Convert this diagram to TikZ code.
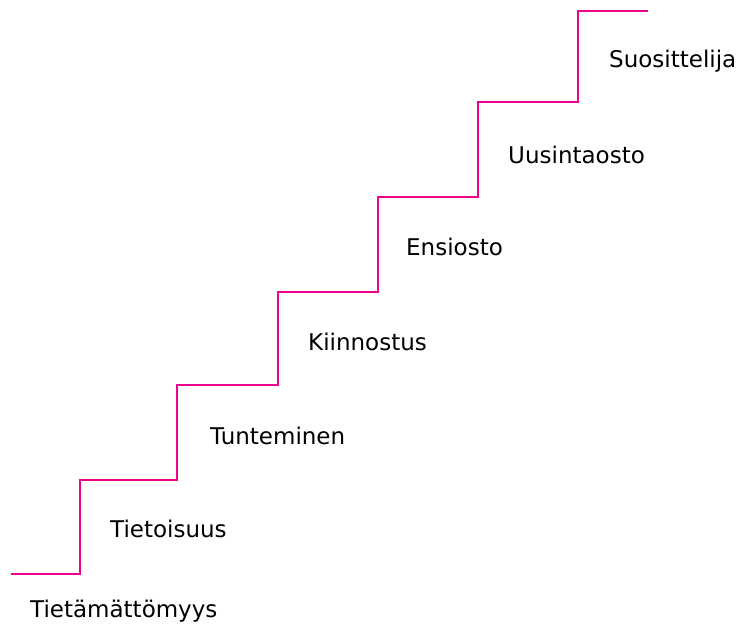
\documentclass[tikz,border=0pt]{standalone}
\usepackage{fontspec}
\setmainfont{DejaVu Sans}
\definecolor{stairpink}{RGB}{236,0,140}

\begin{document}
\begin{tikzpicture}[
    x=1pt, y=-1pt,
    stage/.style={anchor=base west, inner sep=0pt, font=\fontsize{23}{27}\selectfont},
    stair/.style={draw=stairpink, line width=2.2pt, line join=miter},
]
\useasboundingbox (0,0) rectangle (739,626);

% Staircase
\draw[stair] (11,574) -- (80,574) -- (80,480) -- (177,480) -- (177,385)
    -- (278,385) -- (278,292) -- (378,292) -- (378,197) -- (478,197)
    -- (478,102) -- (578,102) -- (578,11) -- (648,11);

% Stages
\node[stage] (s0) at (30,617) {Tietämättömyys};
\node[stage] (s1) at (110,537) {Tietoisuus};
\node[stage] (s2) at (210,444) {Tunteminen};
\node[stage] (s3) at (308,350) {Kiinnostus};
\node[stage] (s4) at (406,255) {Ensiosto};
\node[stage] (s5) at (508,163) {Uusintaosto};
\node[stage] (s6) at (609,68) {Suosittelija};

\end{tikzpicture}
\end{document}
